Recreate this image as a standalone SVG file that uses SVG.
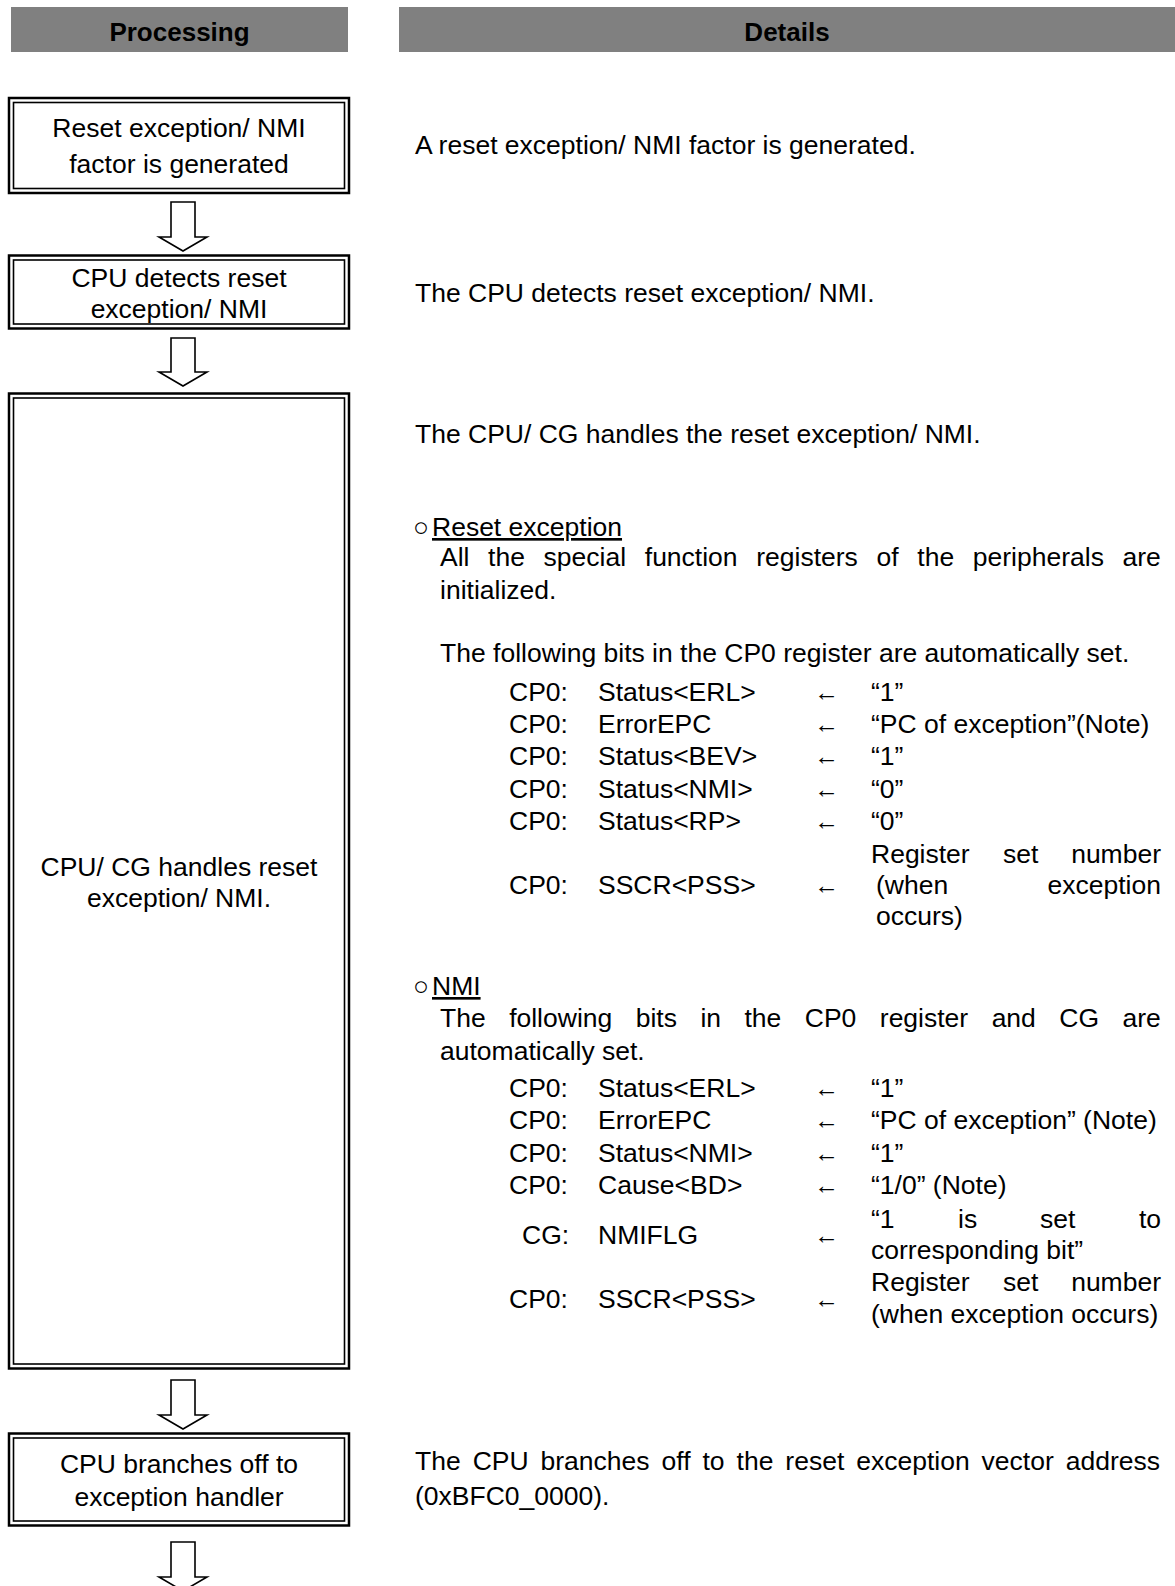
<svg xmlns="http://www.w3.org/2000/svg" width="1175" height="1586" viewBox="0 0 1175 1586">
<style>
text{font-family:"Liberation Sans",Arial,sans-serif;font-size:26.5px;fill:#000}
.hd{font-weight:bold;font-size:26px;text-anchor:middle}
.c{text-anchor:middle}
.e{text-anchor:end}
.la{font-size:25px}
.hdr{fill:#808080}
.o{fill:none;stroke:#000;stroke-width:2.5}
.i{fill:none;stroke:#000;stroke-width:1.6}
.arr{fill:#fff;stroke:#000;stroke-width:1.6;stroke-linejoin:miter}
.u{text-decoration:underline}
</style>
<rect width="1175" height="1586" fill="#fff"/>
<g id="header-processing">
<rect class="hdr" x="11" y="7" width="337" height="45"/>
<text class="hd" x="179.5" y="41">Processing</text>
</g>
<g id="header-details">
<rect class="hdr" x="399" y="7" width="776" height="45"/>
<text class="hd" x="787" y="41">Details</text>
</g>
<g id="node1">
<rect class="o" x="9" y="98" width="340" height="95"/>
<rect class="i" x="13.5" y="102.5" width="331" height="86"/>
<text class="c" x="179" y="137">Reset exception/ NMI</text>
<text class="c" x="179" y="173">factor is generated</text>
</g>
<g id="node2">
<rect class="o" x="9" y="255.5" width="340" height="73"/>
<rect class="i" x="13.5" y="260" width="331" height="64"/>
<text class="c" x="179" y="287">CPU detects reset</text>
<text class="c" x="179" y="318">exception/ NMI</text>
</g>
<g id="node3">
<rect class="o" x="9" y="393.5" width="340" height="975"/>
<rect class="i" x="13.5" y="398" width="331" height="966"/>
<text class="c" x="179" y="876">CPU/ CG handles reset</text>
<text class="c" x="179" y="907">exception/ NMI.</text>
</g>
<g id="node4">
<rect class="o" x="9" y="1433.5" width="340" height="92"/>
<rect class="i" x="13.5" y="1438" width="331" height="83"/>
<text class="c" x="179" y="1473">CPU branches off to</text>
<text class="c" x="179" y="1506">exception handler</text>
</g>
<g id="connectors">
<polygon class="arr" points="171,202 195,202 195,237 207,237 183,251 159,237 171,237"/>
<polygon class="arr" points="171,338 195,338 195,372 207,372 183,386 159,372 171,372"/>
<polygon class="arr" points="171,1380 195,1380 195,1415 207,1415 183,1429 159,1415 171,1415"/>
<polygon class="arr" points="171,1542 195,1542 195,1577 207,1577 183,1591 159,1577 171,1577"/>
</g>
<g id="details">
<text x="415" y="154">A reset exception/ NMI factor is generated.</text>
<text x="415" y="302">The CPU detects reset exception/ NMI.</text>
<text x="415" y="443">The CPU/ CG handles the reset exception/ NMI.</text>
<text x="413" y="536" font-size="20">○</text>
<text class="u" x="432" y="536">Reset exception</text>
<text x="440" y="566" word-spacing="11.3">All the special function registers of the peripherals are</text>
<text x="440" y="599">initialized.</text>
<text x="440" y="662">The following bits in the CP0 register are automatically set.</text>
<g id="table1">
<text x="509" y="701">CP0:</text><text x="598" y="701">Status&lt;ERL&gt;</text><text class="la" x="814" y="701">←</text><text x="871" y="701">“1”</text>
<text x="509" y="733">CP0:</text><text x="598" y="733">ErrorEPC</text><text class="la" x="814" y="733">←</text><text x="871" y="733">“PC of exception”(Note)</text>
<text x="509" y="765">CP0:</text><text x="598" y="765">Status&lt;BEV&gt;</text><text class="la" x="814" y="765">←</text><text x="871" y="765">“1”</text>
<text x="509" y="798">CP0:</text><text x="598" y="798">Status&lt;NMI&gt;</text><text class="la" x="814" y="798">←</text><text x="871" y="798">“0”</text>
<text x="509" y="830">CP0:</text><text x="598" y="830">Status&lt;RP&gt;</text><text class="la" x="814" y="830">←</text><text x="871" y="830">“0”</text>
<text x="871" y="863">Register</text><text x="1003" y="863">set</text><text class="e" x="1161" y="863">number</text>
<text x="509" y="894">CP0:</text><text x="598" y="894">SSCR&lt;PSS&gt;</text><text class="la" x="814" y="894">←</text>
<text x="876" y="894">(when</text><text class="e" x="1161" y="894">exception</text>
<text x="876" y="925">occurs)</text>
</g>
<text x="413" y="995" font-size="20">○</text>
<text class="u" x="432" y="995">NMI</text>
<text x="440" y="1027" word-spacing="16.1">The following bits in the CP0 register and CG are</text>
<text x="440" y="1060">automatically set.</text>
<g id="table2">
<text x="509" y="1097">CP0:</text><text x="598" y="1097">Status&lt;ERL&gt;</text><text class="la" x="814" y="1097">←</text><text x="871" y="1097">“1”</text>
<text x="509" y="1129">CP0:</text><text x="598" y="1129">ErrorEPC</text><text class="la" x="814" y="1129">←</text><text x="871" y="1129">“PC of exception” (Note)</text>
<text x="509" y="1162">CP0:</text><text x="598" y="1162">Status&lt;NMI&gt;</text><text class="la" x="814" y="1162">←</text><text x="871" y="1162">“1”</text>
<text x="509" y="1194">CP0:</text><text x="598" y="1194">Cause&lt;BD&gt;</text><text class="la" x="814" y="1194">←</text><text x="871" y="1194">“1/0” (Note)</text>
<text x="871" y="1228">“1</text><text x="958" y="1228">is</text><text x="1040" y="1228">set</text><text class="e" x="1161" y="1228">to</text>
<text x="522" y="1244">CG:</text><text x="598" y="1244">NMIFLG</text><text class="la" x="814" y="1244">←</text>
<text x="871" y="1259">corresponding bit”</text>
<text x="871" y="1291">Register</text><text x="1003" y="1291">set</text><text class="e" x="1161" y="1291">number</text>
<text x="509" y="1308">CP0:</text><text x="598" y="1308">SSCR&lt;PSS&gt;</text><text class="la" x="814" y="1308">←</text>
<text x="871" y="1323">(when exception occurs)</text>
</g>
<text x="415" y="1470" word-spacing="4.6">The CPU branches off to the reset exception vector address</text>
<text x="415" y="1505">(0xBFC0_0000).</text>
</g>
</svg>
